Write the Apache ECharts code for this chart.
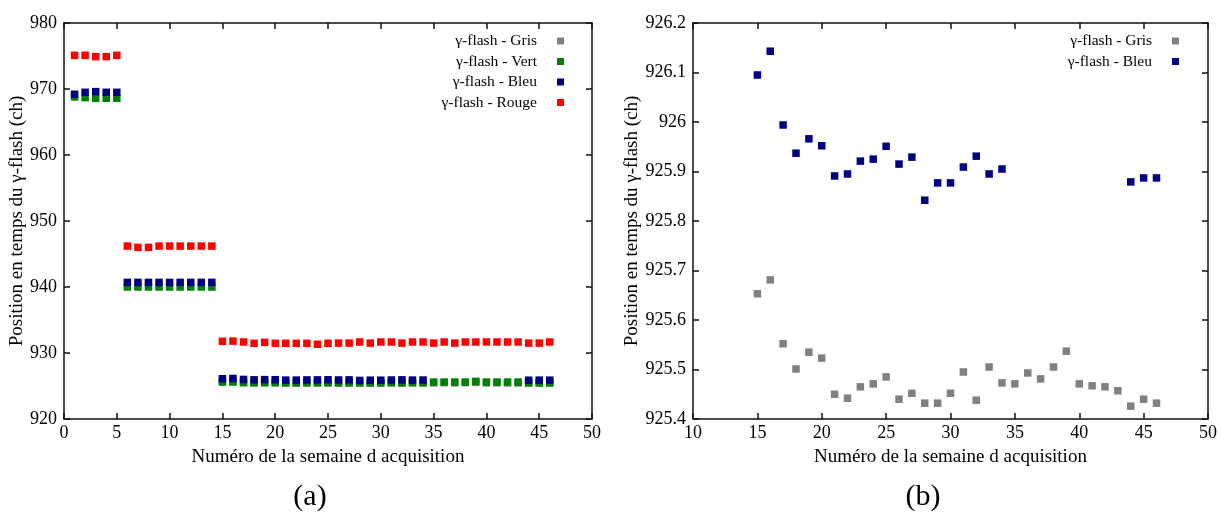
<!DOCTYPE html>
<html>
<head>
<meta charset="utf-8">
<script src="https://cdn.jsdelivr.net/npm/echarts@6/dist/echarts.min.js"></script>
<style>
html,body{margin:0;padding:0;background:#fff;}
#chart{width:1221px;height:512px;}
</style>
</head>
<body>
<div id="chart"></div>
<script>
// ---- data ----
const weeksAll = [1,2,3,4,5,6,7,8,9,10,11,12,13,14,15,16,17,18,19,20,21,22,23,24,25,26,27,28,29,30,31,32,33,34,35,36,37,38,39,40,41,42,43,44,45,46];
const redValues = [975.1,975.1,974.9,974.9,975.1,
  946.2,946.0,946.0,946.2,946.2,946.2,946.2,946.2,946.2,
  931.77,931.8,931.67,931.47,931.62,931.47,931.47,931.47,931.47,931.32,931.47,
  931.5,931.5,931.67,931.5,931.67,931.67,931.5,931.67,931.67,931.5,931.67,931.5,931.67,931.67,931.67,931.67,931.67,931.67,931.5,931.5,931.67];
const greenValues = [968.8,968.7,968.6,968.6,968.6,
  940.0,940.0,940.0,940.0,940.0,940.0,940.0,940.0,940.0,
  925.6,925.6,925.5,925.5,925.5,925.5,925.5,925.5,925.5,925.5,925.5,925.5,925.5,925.5,925.5,925.5,925.5,925.5,925.5,925.5,
  925.6,925.6,925.6,925.6,925.7,925.6,925.6,925.6,925.6,925.5,925.5,925.5];
const blueEarlyWeeks = [1,2,3,4,5,6,7,8,9,10,11,12,13,14];
const blueEarlyValues = [969.2,969.5,969.6,969.5,969.5,940.7,940.7,940.7,940.7,940.7,940.7,940.7,940.7,940.7];
const blueLateWeeks = [15,16,17,18,19,20,21,22,23,24,25,26,27,28,29,30,31,32,33,34,44,45,46];
const blueLateValues = [926.095,926.143,925.994,925.937,925.966,925.952,925.891,925.895,925.921,925.925,925.951,925.915,925.929,925.842,925.877,925.877,925.909,925.931,925.895,925.905,925.879,925.887,925.887];
const grayWeeks = [15,16,17,18,19,20,21,22,23,24,25,26,27,28,29,30,31,32,33,34,35,36,37,38,39,40,41,42,43,44,45,46];
const grayValues = [925.653,925.681,925.552,925.501,925.535,925.523,925.450,925.442,925.465,925.471,925.485,925.440,925.452,925.432,925.432,925.452,925.495,925.438,925.505,925.473,925.471,925.493,925.481,925.505,925.537,925.471,925.467,925.465,925.457,925.426,925.440,925.432];
const seriesNames = ['γ-flash - Gris','γ-flash - Vert','γ-flash - Bleu','γ-flash - Rouge'];
const colors = {gris:'#808080', vert:'#008000', bleu:'#000080', rouge:'#ff0000'};
const yTitle = 'Position en temps du γ-flash (ch)';
const xTitle = 'Numéro de la semaine d acquisition';

// ---- helpers ----
const zip = (xs, ys) => xs.map((x,i)=>[x, ys[i]]);
const FONT = 'Liberation Serif';
const lineStyle = {color:'#111', width:1.5};
function xAx(grid, min, max, pos, labels){
  return {type:'value', gridIndex:grid, min:min, max:max, interval:5, position:pos,
    axisLine:{show:true, onZero:false, lineStyle:lineStyle},
    axisTick:{show:true, inside:true, length:6, lineStyle:lineStyle},
    axisLabel:{show:labels, color:'#000', fontFamily:FONT, fontSize:18, margin:5},
    splitLine:{show:false},
    name: labels ? xTitle : '', nameLocation:'middle', nameGap:29,
    nameTextStyle:{color:'#000', fontFamily:FONT, fontSize:19}};
}
function yAx(grid, min, max, interval, pos, labels, gap, fmt){
  return {type:'value', gridIndex:grid, min:min, max:max, interval:interval, position:pos,
    axisLine:{show:true, onZero:false, lineStyle:lineStyle},
    axisTick:{show:true, inside:true, length:6, lineStyle:lineStyle},
    axisLabel:{show:labels, color:'#000', fontFamily:FONT, fontSize:18, margin:7, formatter:fmt},
    splitLine:{show:false},
    name: labels ? yTitle : '', nameLocation:'middle', nameGap:gap, nameRotate:90,
    nameTextStyle:{color:'#000', fontFamily:FONT, fontSize:19}};
}
function sc(name, color, data, xi, yi){
  return {type:'scatter', name:name, xAxisIndex:xi, yAxisIndex:yi, data:data,
    symbol:'rect', symbolSize:7.5, itemStyle:{color:color, opacity:1}, animation:false};
}

const chart = echarts.init(document.getElementById('chart'), null, {renderer:'canvas'});
chart.setOption({
  backgroundColor:'#fff',
  animation:false,
  title:[
    {text:'(a)', left:305, top:477, textAlign:'center', textStyle:{fontFamily:FONT, fontSize:30, fontWeight:'normal', color:'#000'}},
    {text:'(b)', left:918, top:477, textAlign:'center', textStyle:{fontFamily:FONT, fontSize:30, fontWeight:'normal', color:'#000'}}
  ],
  grid:[
    {left:64, top:23, width:528, height:396},
    {left:693, top:23, width:515, height:396}
  ],
  legend:[
    {orient:'vertical', right:652, top:28, align:'right', itemWidth:7, itemHeight:7, itemGap:4.5,
     icon:'rect', data:seriesNames, textStyle:{fontFamily:FONT, fontSize:15.5, color:'#000', padding:[0,15,0,0]}},
    {orient:'vertical', right:37, top:28, align:'right', itemWidth:7, itemHeight:7, itemGap:4.5,
     icon:'rect', data:[seriesNames[0], seriesNames[2]], textStyle:{fontFamily:FONT, fontSize:15.5, color:'#000', padding:[0,15,0,0]}}
  ],
  xAxis:[
    xAx(0, 0, 50, 'bottom', true), xAx(0, 0, 50, 'top', false),
    xAx(1, 10, 50, 'bottom', true), xAx(1, 10, 50, 'top', false)
  ],
  yAxis:[
    yAx(0, 920, 980, 10, 'left', true, 35), yAx(0, 920, 980, 10, 'right', false, 0),
    yAx(1, 925.4, 926.2, 0.1, 'left', true, 47, v => String(+v.toFixed(1))),
    yAx(1, 925.4, 926.2, 0.1, 'right', false, 0)
  ],
  series:[
    sc(seriesNames[0], colors.gris, zip(grayWeeks, grayValues), 0, 0),
    sc(seriesNames[1], colors.vert, zip(weeksAll, greenValues), 0, 0),
    sc(seriesNames[2], colors.bleu, zip(blueEarlyWeeks, blueEarlyValues).concat(zip(blueLateWeeks, blueLateValues)), 0, 0),
    sc(seriesNames[3], colors.rouge, zip(weeksAll, redValues), 0, 0),
    sc(seriesNames[0], colors.gris, zip(grayWeeks, grayValues), 2, 2),
    sc(seriesNames[2], colors.bleu, zip(blueLateWeeks, blueLateValues), 2, 2)
  ]
});
</script>
</body>
</html>
